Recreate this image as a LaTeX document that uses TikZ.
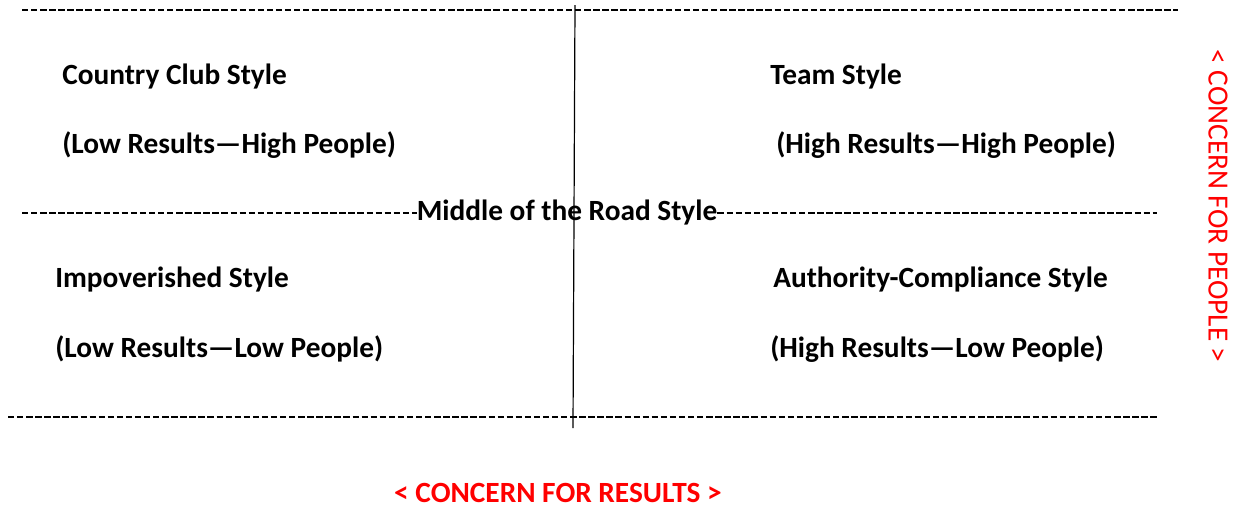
\documentclass[tikz,border=0pt]{standalone}
\usepackage{fontspec}
\setmainfont{Carlito}
\usetikzlibrary{positioning}
\tikzstyle{quad}    = [font=\bfseries\fontsize{22}{26}\selectfont,anchor=west,inner sep=0pt]
\tikzstyle{concern} = [text=red,inner sep=0pt]
\tikzstyle{divider} = [line width=1.9pt,dash pattern=on 4.8pt off 2pt]

\begin{document}
\begin{tikzpicture}[x=0.75pt,y=-0.75pt]
\useasboundingbox (0,0) rectangle (1243,508);

\node[quad] (CC)  at (62,77)   {Country Club Style};
\node[quad] (CCr) at (62,145)  {(Low Results---High People)};
\node[quad] (TS)  at (770,77)  {Team Style};
\node[quad] (TSr) at (776,145) {(High Results---High People)};
\node[quad] (IS)  at (55,280)  {Impoverished Style};
\node[quad] (ISr) at (55,349)  {(Low Results---Low People)};
\node[quad] (AC)  at (773,280) {Authority-Compliance Style};
\node[quad] (ACr) at (770,349) {(High Results---Low People)};

\node[quad,anchor=center] (MR) at (567,213) {Middle of the Road Style};

\node[concern,font=\bfseries\fontsize{22}{26}\selectfont] (CR) at (558,493) {< CONCERN FOR RESULTS >};
\node[concern,font=\fontsize{22}{26}\selectfont,rotate=-90] (CP) at (1218,206) {< CONCERN FOR PEOPLE >};

\coordinate (T1) at (22,10);   \coordinate (T2) at (1178,10);
\coordinate (M1) at (22,213);  \coordinate (M2) at (1157,213);
\coordinate (B1) at (8,417);   \coordinate (B2) at (1157,417);
\coordinate (V1) at (575,5);   \coordinate (V2) at (573,428);

\draw[divider] (T1) -- (T2);
\draw[divider] (M1) -- (MR.west);
\draw[divider] (MR.east) -- (M2);
\draw[divider] (B1) -- (B2);
\draw[line width=0.9pt] (V1) -- (V2);

\end{tikzpicture}
\end{document}
